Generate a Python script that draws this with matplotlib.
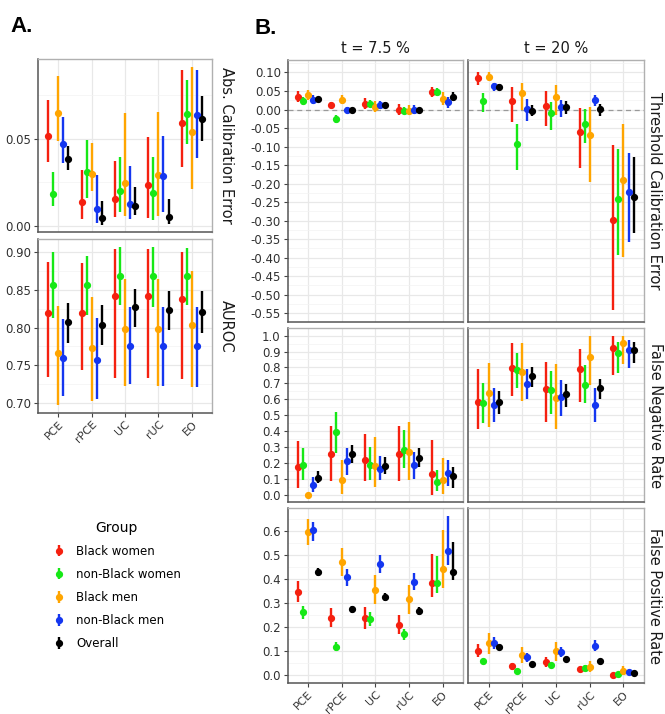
import numpy as np
import matplotlib
matplotlib.use("Agg")
import matplotlib.pyplot as plt
from matplotlib.ticker import MultipleLocator, FuncFormatter

plt.rcParams['font.family'] = ['DejaVu Sans']

methods = ["PCE", "rPCE", "UC", "rUC", "EO"]
groups = ["Black women", "non-Black women", "Black men", "non-Black men", "Overall"]
colors = ["#F5200F", "#16E816", "#FFA500", "#1436F0", "#000000"]
thresholds = ["t = 7.5 %", "t = 20 %"]

# rows = groups, columns = methods
ace_est = [[0.0513, 0.0138, 0.0155, 0.0233, 0.0591],
           [0.0184, 0.0309, 0.0201, 0.0191, 0.0640],
           [0.0648, 0.0301, 0.0246, 0.0294, 0.0540],
           [0.0468, 0.0097, 0.0129, 0.0284, 0.0636],
           [0.0384, 0.0047, 0.0117, 0.0053, 0.0610]]
ace_lo = [[0.0366, 0.0042, 0.0053, 0.0047, 0.0341],
          [0.0116, 0.0161, 0.0080, 0.0038, 0.0472],
          [0.0489, 0.0199, 0.0057, 0.0057, 0.0210],
          [0.0360, 0.0019, 0.0044, 0.0080, 0.0390],
          [0.0322, 0.0009, 0.0063, 0.0013, 0.0489]]
ace_hi = [[0.0720, 0.0322, 0.0371, 0.0511, 0.0890],
          [0.0309, 0.0492, 0.0394, 0.0398, 0.0833],
          [0.0856, 0.0473, 0.0644, 0.0653, 0.0909],
          [0.0625, 0.0290, 0.0345, 0.0517, 0.0894],
          [0.0460, 0.0144, 0.0225, 0.0153, 0.0746]]

auroc_est = [[0.8195, 0.8199, 0.8420, 0.8420, 0.8385],
             [0.8566, 0.8566, 0.8690, 0.8690, 0.8690],
             [0.7659, 0.7730, 0.7982, 0.7980, 0.8040],
             [0.7602, 0.7575, 0.7757, 0.7757, 0.7752],
             [0.8080, 0.8035, 0.8270, 0.8239, 0.8212]]
auroc_lo = [[0.7340, 0.7442, 0.7327, 0.7327, 0.7323],
            [0.8128, 0.8164, 0.8305, 0.8279, 0.8305],
            [0.6973, 0.7030, 0.7226, 0.7226, 0.7217],
            [0.7088, 0.7053, 0.7252, 0.7226, 0.7217],
            [0.7796, 0.7774, 0.8004, 0.7970, 0.7934]]
auroc_hi = [[0.8867, 0.8854, 0.9044, 0.9044, 0.9004],
            [0.9000, 0.8956, 0.9066, 0.9070, 0.9050],
            [0.8292, 0.8403, 0.8646, 0.8650, 0.8757],
            [0.8111, 0.8133, 0.8279, 0.8280, 0.8279],
            [0.8332, 0.8300, 0.8518, 0.8490, 0.8482]]

tce75_est = [[0.0341, 0.0117, 0.0144, -0.0010, 0.0476],
             [0.0225, -0.0251, 0.0160, -0.0027, 0.0476],
             [0.0386, 0.0250, 0.0070, -0.0027, 0.0296],
             [0.0270, -0.0010, 0.0126, -0.0010, 0.0216],
             [0.0287, 0.0000, 0.0135, 0.0000, 0.0340]]
tce75_lo = [[0.0207, 0.0045, 0.0018, -0.0135, 0.0340],
            [0.0117, -0.0360, 0.0070, -0.0126, 0.0360],
            [0.0250, 0.0160, -0.0060, -0.0135, 0.0117],
            [0.0160, -0.0090, 0.0018, -0.0110, 0.0054],
            [0.0240, -0.0045, 0.0070, -0.0040, 0.0250]]
tce75_hi = [[0.0494, 0.0207, 0.0310, 0.0160, 0.0610],
            [0.0340, -0.0144, 0.0250, 0.0070, 0.0590],
            [0.0520, 0.0386, 0.0225, 0.0117, 0.0476],
            [0.0386, 0.0070, 0.0230, 0.0110, 0.0340],
            [0.0330, 0.0045, 0.0200, 0.0040, 0.0476]]

tce20_est = [[0.0853, 0.0233, 0.0099, -0.0611, -0.2980],
             [0.0225, -0.0943, -0.0099, -0.0386, -0.2416],
             [0.0889, 0.0449, 0.0341, -0.0700, -0.1900],
             [0.0629, 0.0027, 0.0063, 0.0260, -0.2236],
             [0.0610, -0.0027, 0.0063, 0.0009, -0.2370]]
tce20_lo = [[0.0656, -0.0340, -0.0449, -0.1590, -0.5424],
            [-0.0080, -0.1625, -0.0540, -0.0916, -0.3924],
            [0.0763, -0.0018, -0.0153, -0.1967, -0.3987],
            [0.0503, -0.0305, -0.0198, 0.0099, -0.3574],
            [0.0540, -0.0180, -0.0110, -0.0180, -0.3340]]
tce20_hi = [[0.1006, 0.0610, 0.0494, 0.0054, -0.0961],
            [0.0449, -0.0395, 0.0216, 0.0009, -0.1069],
            [0.1015, 0.0718, 0.0656, 0.0070, -0.0404],
            [0.0718, 0.0296, 0.0270, 0.0386, -0.1185],
            [0.0680, 0.0117, 0.0225, 0.0160, -0.1290]]

fnr75_est = [[0.174, 0.257, 0.216, 0.255, 0.130],
             [0.188, 0.391, 0.188, 0.280, 0.077],
             [0.000, 0.090, 0.182, 0.266, 0.090],
             [0.063, 0.209, 0.161, 0.184, 0.134],
             [0.105, 0.255, 0.182, 0.230, 0.119]]
fnr75_lo = [[0.044, 0.088, 0.084, 0.088, 0.000],
            [0.094, 0.262, 0.094, 0.167, 0.021],
            [0.000, 0.006, 0.046, 0.090, 0.004],
            [0.017, 0.126, 0.090, 0.100, 0.052],
            [0.073, 0.199, 0.130, 0.174, 0.042]]
fnr75_hi = [[0.339, 0.429, 0.383, 0.429, 0.343],
            [0.293, 0.519, 0.299, 0.408, 0.157],
            [0.000, 0.220, 0.362, 0.454, 0.230],
            [0.109, 0.293, 0.241, 0.266, 0.220],
            [0.146, 0.314, 0.236, 0.293, 0.174]]

fnr20_est = [[0.584, 0.795, 0.663, 0.791, 0.920],
             [0.579, 0.782, 0.655, 0.692, 0.891],
             [0.642, 0.774, 0.605, 0.868, 0.956],
             [0.565, 0.697, 0.613, 0.565, 0.908],
             [0.584, 0.745, 0.630, 0.669, 0.910]]
fnr20_lo = [[0.414, 0.623, 0.454, 0.584, 0.751],
            [0.450, 0.669, 0.508, 0.579, 0.764],
            [0.425, 0.592, 0.412, 0.690, 0.822],
            [0.454, 0.600, 0.496, 0.454, 0.797],
            [0.510, 0.680, 0.554, 0.600, 0.826]]
fnr20_hi = [[0.789, 0.956, 0.833, 0.918, 0.998],
            [0.705, 0.889, 0.780, 0.816, 0.962],
            [0.826, 0.952, 0.822, 0.998, 0.998],
            [0.669, 0.791, 0.720, 0.672, 0.973],
            [0.653, 0.801, 0.695, 0.730, 0.962]]

fpr75_est = [[0.347, 0.2375, 0.2375, 0.211, 0.383],
             [0.2625, 0.119, 0.235, 0.171, 0.383],
             [0.596, 0.472, 0.356, 0.317, 0.442],
             [0.604, 0.407, 0.4625, 0.389, 0.515],
             [0.428, 0.275, 0.324, 0.267, 0.429]]
fpr75_lo = [[0.303, 0.200, 0.194, 0.172, 0.325],
            [0.233, 0.100, 0.206, 0.147, 0.342],
            [0.543, 0.411, 0.296, 0.256, 0.3625],
            [0.557, 0.372, 0.425, 0.353, 0.460],
            [0.411, 0.261, 0.307, 0.251, 0.397]]
fpr75_hi = [[0.390, 0.279, 0.282, 0.251, 0.504],
            [0.290, 0.139, 0.2625, 0.194, 0.497],
            [0.651, 0.529, 0.417, 0.376, 0.603],
            [0.639, 0.442, 0.501, 0.425, 0.661],
            [0.444, 0.289, 0.342, 0.282, 0.556]]

fpr20_est = [[0.101, 0.0375, 0.0556, 0.025, 0.000],
             [0.058, 0.019, 0.042, 0.032, 0.007],
             [0.133, 0.083, 0.100, 0.033, 0.018],
             [0.133, 0.075, 0.097, 0.122, 0.0125],
             [0.118, 0.0486, 0.069, 0.061, 0.008]]
fpr20_lo = [[0.075, 0.022, 0.036, 0.014, -0.006],
            [0.047, 0.012, 0.031, 0.022, 0.001],
            [0.089, 0.053, 0.061, 0.014, 0.003],
            [0.108, 0.057, 0.075, 0.100, 0.003],
            [0.110, 0.042, 0.062, 0.054, 0.002]]
fpr20_hi = [[0.129, 0.053, 0.078, 0.036, 0.008],
            [0.069, 0.026, 0.053, 0.042, 0.013],
            [0.175, 0.117, 0.140, 0.058, 0.040],
            [0.158, 0.092, 0.119, 0.147, 0.024],
            [0.126, 0.055, 0.076, 0.068, 0.014]]

W, H = 665, 714
fig = plt.figure(figsize=(W / 100, H / 100), dpi=100)


def rect(x0, y0, x1, y1):
    return [x0 / W, 1 - y1 / H, (x1 - x0) / W, (y1 - y0) / H]


TICK_FS = 8.5
XTICK_FS = 8.0
GRID_MAJ = "#E8E8E8"
GRID_MIN = "#F3F3F3"
offsets = np.array([-0.3, -0.15, 0.0, 0.15, 0.3])


def fmt_factory(dec):
    def f(v, pos):
        s = f"{v:.{dec}f}"
        if s.startswith("-") and float(s) == 0:
            s = s[1:]
        return s
    return f


def style(ax, ylim, major, minor, dec, show_y=True, show_x=False):
    ax.set_xlim(-0.6, 4.6)
    ax.set_ylim(*ylim)
    ax.set_xticks(range(len(methods)))
    ax.yaxis.set_major_locator(MultipleLocator(major))
    ax.yaxis.set_minor_locator(MultipleLocator(minor))
    ax.yaxis.set_major_formatter(FuncFormatter(fmt_factory(dec)))
    ax.grid(which="major", color=GRID_MAJ, lw=0.9, zorder=0)
    ax.grid(which="minor", axis="y", color=GRID_MIN, lw=0.5, zorder=0)
    ax.set_axisbelow(True)
    ax.tick_params(which="minor", length=0)
    ax.tick_params(which="major", length=3, width=0.8, color="#444444",
                   labelsize=TICK_FS, labelcolor="#303030", pad=2)
    if show_x:
        ax.set_xticklabels(methods, rotation=45, ha="right",
                           rotation_mode="anchor", fontsize=XTICK_FS)
        ax.tick_params(axis="x", pad=1.5)
    else:
        ax.set_xticklabels([])
        ax.tick_params(axis="x", length=0)
    if not show_y:
        ax.set_yticklabels([])
        ax.tick_params(axis="y", length=0)
    for side in ["top", "right"]:
        ax.spines[side].set_color("#B0B0B0")
        ax.spines[side].set_linewidth(1.0)
    for side in ["left", "bottom"]:
        ax.spines[side].set_color("#555555")
        ax.spines[side].set_linewidth(1.1)


def draw(ax, est, lo, hi):
    handles = []
    for gi in range(len(groups)):
        e = np.array(est[gi])
        l = np.array(lo[gi])
        h = np.array(hi[gi])
        x = np.arange(len(methods)) + offsets[gi]
        cont = ax.errorbar(x, e, yerr=[np.clip(e - l, 0, None), np.clip(h - e, 0, None)],
                           fmt="o", color=colors[gi], ms=4.2, elinewidth=1.7,
                           capsize=0, zorder=3, label=groups[gi])
        handles.append(cont)
    return handles


# Panel A
axA1 = fig.add_axes(rect(38, 59, 212, 232))
draw(axA1, ace_est, ace_lo, ace_hi)
style(axA1, (-0.0033, 0.0955), 0.05, 0.025, 2)

axA2 = fig.add_axes(rect(38, 239, 212, 413))
handles = draw(axA2, auroc_est, auroc_lo, auroc_hi)
style(axA2, (0.6868, 0.9175), 0.05, 0.025, 2, show_x=True)

fig.text(226 / W, 1 - 145.5 / H, "Abs. Calibration Error", rotation=-90,
         ha="center", va="center", fontsize=10.5, color="#1A1A1A")
fig.text(226 / W, 1 - 326 / H, "AUROC", rotation=-90,
         ha="center", va="center", fontsize=10.5, color="#1A1A1A")

# Panel B
cols = [(287.7, 462.7), (468.3, 643.7)]
rows = [(60, 322.3), (328.3, 502), (508.3, 683.3)]
row_specs = [
    ((-0.5746, 0.1337), 0.05, 0.025, 2,
     [(tce75_est, tce75_lo, tce75_hi), (tce20_est, tce20_lo, tce20_hi)],
     "Threshold Calibration Error"),
    ((-0.046, 1.046), 0.1, 0.05, 1,
     [(fnr75_est, fnr75_lo, fnr75_hi), (fnr20_est, fnr20_lo, fnr20_hi)],
     "False Negative Rate"),
    ((-0.033, 0.694), 0.1, 0.05, 1,
     [(fpr75_est, fpr75_lo, fpr75_hi), (fpr20_est, fpr20_lo, fpr20_hi)],
     "False Positive Rate"),
]

for ri, (ylim, major, minor, dec, datasets, label) in enumerate(row_specs):
    y0, y1 = rows[ri]
    for ci, (x0, x1) in enumerate(cols):
        ax = fig.add_axes(rect(x0, y0, x1, y1))
        e, l, h = datasets[ci]
        draw(ax, e, l, h)
        style(ax, ylim, major, minor, dec, show_y=(ci == 0), show_x=(ri == 2))
        if ri == 0:
            ax.axhline(0, color="#999999", lw=0.9, ls=(0, (4, 3)), zorder=1)
            ax.set_title(thresholds[ci], fontsize=10.5, color="#1A1A1A", pad=5)
    fig.text(655 / W, 1 - (y0 + y1) / 2 / H, label, rotation=-90,
             ha="center", va="center", fontsize=10.5, color="#1A1A1A")

# Panel tags
fig.text(10 / W, 1 - 27 / H, "A.", fontsize=16, fontweight="bold",
         family="Liberation Sans", ha="left", va="center")
fig.text(254 / W, 1 - 29 / H, "B.", fontsize=16, fontweight="bold",
         family="Liberation Sans", ha="left", va="center")

# Legend
leg = fig.legend(handles=handles, labels=groups, title="Group",
                 loc="upper left", bbox_to_anchor=(42 / W, 1 - 510 / H),
                 frameon=False, fontsize=8.5, title_fontsize=10,
                 handlelength=1.0, handletextpad=1.0, labelspacing=0.85)

fig.savefig("out.png", dpi=100)
